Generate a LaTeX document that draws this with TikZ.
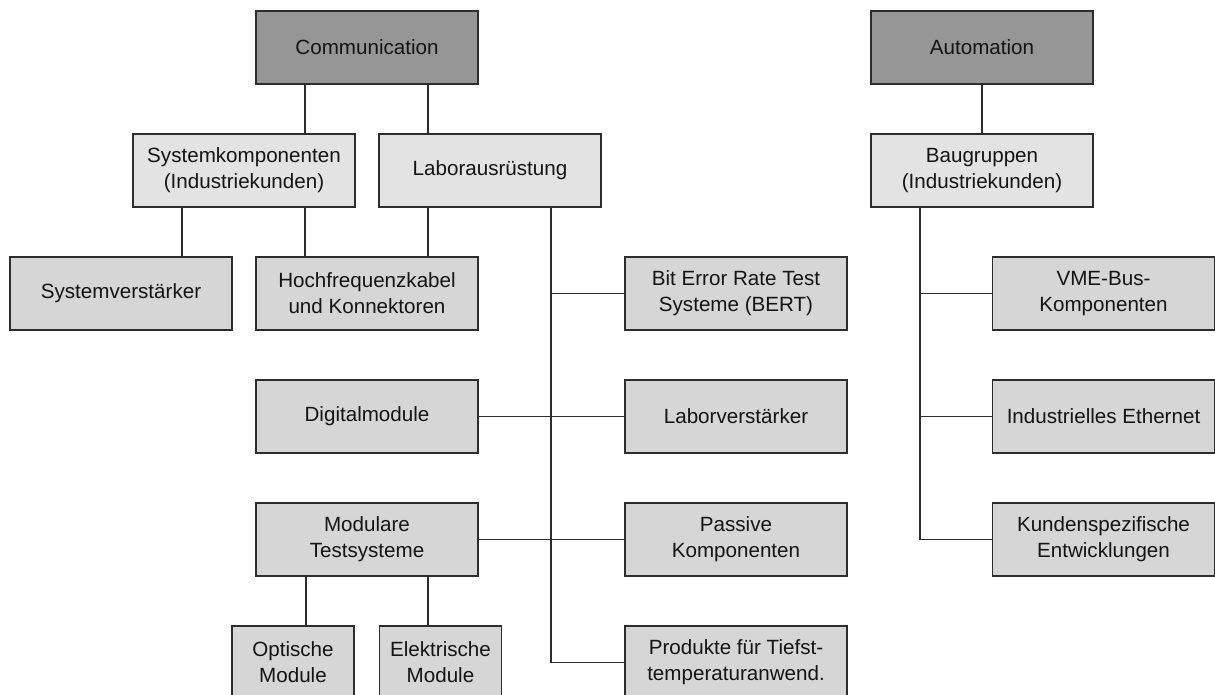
\documentclass[tikz,border=0pt]{standalone}
\usepackage{fontspec}
\setmainfont{Liberation Sans}
\definecolor{topfill}{RGB}{150,150,150}
\definecolor{midfill}{RGB}{227,227,227}
\definecolor{leaffill}{RGB}{214,214,214}
\definecolor{edge}{RGB}{45,45,45}
\definecolor{txt}{RGB}{20,20,20}
\tikzset{
  box/.style={draw=edge, line width=0.75pt, minimum width=111pt, minimum height=36.5pt,
    inner sep=0pt, align=center, text=txt, font=\fontsize{10.3}{13}\selectfont},
  topbox/.style={box, fill=topfill},
  midbox/.style={box, fill=midfill},
  leafbox/.style={box, fill=leaffill},
  smallbox/.style={leafbox, minimum width=61pt},
  conn/.style={draw=edge, line width=0.6pt}
}
\begin{document}
\begin{tikzpicture}[x=0.5pt,y=-0.5pt]
\useasboundingbox (0,0) rectangle (1215,695);
\clip (0,0) rectangle (1215,695);
% top level
\node[topbox] (comm) at (367,47.5) {Communication};
\node[topbox] (auto) at (982,47.5) {Automation};
% second level
\node[midbox] (sysk) at (244,170.5) {Systemkomponenten\\(Industriekunden)};
\node[midbox] (labor) at (490,170.5) {Laborausrüstung};
\node[midbox] (baug) at (982,170.5) {Baugruppen\\(Industriekunden)};
% row 3
\node[leafbox] (sysv) at (121,293.5) {Systemverstärker};
\node[leafbox] (hf) at (367,293.5) {Hochfrequenzkabel\\und Konnektoren};
\node[leafbox] (bert) at (736,293.5) {Bit Error Rate Test\\Systeme (BERT)};
\node[leafbox] (vme) at (1103.5,293.5) {VME-Bus-\\Komponenten};
% row 4
\node[leafbox] (digi) at (367,416.5) {Digitalmodule};
\node[leafbox] (lv) at (736,416.5) {Laborverstärker};
\node[leafbox] (eth) at (1103.5,416.5) {Industrielles Ethernet};
% row 5
\node[leafbox] (mod) at (367,539.5) {Modulare\\Testsysteme};
\node[leafbox] (pass) at (736,539.5) {Passive\\Komponenten};
\node[leafbox] (kund) at (1103.5,539.5) {Kundenspezifische\\Entwicklungen};
% row 6
\node[smallbox] (opt) at (293,662.5) {Optische\\Module};
\node[smallbox] (elek) at (440.5,662.5) {Elektrische\\Module};
\node[leafbox] (prod) at (736,662.5) {Produkte für Tiefst-\\temperaturanwend.};
% connectors: Communication
\draw[conn] ([xshift=-31pt]comm.south) -- ([xshift=-31pt]comm.south |- sysk.north);
\draw[conn] ([xshift=30.5pt]comm.south) -- ([xshift=30.5pt]comm.south |- labor.north);
\draw[conn] ([xshift=-31pt]sysk.south) -- ([xshift=-31pt]sysk.south |- sysv.north);
\draw[conn] ([xshift=30.5pt]sysk.south) -- ([xshift=30.5pt]sysk.south |- hf.north);
\draw[conn] ([xshift=-31pt]labor.south) -- ([xshift=-31pt]labor.south |- hf.north);
\coordinate (ltrunk) at ([xshift=30.5pt]labor.south);
\draw[conn] (ltrunk) |- (prod.west);
\draw[conn] (ltrunk |- bert.west) -- (bert.west);
\draw[conn] (digi.east) -- (lv.west);
\draw[conn] (mod.east) -- (pass.west);
\draw[conn] ([xshift=-30.5pt]mod.south) -- ([xshift=-30.5pt]mod.south |- opt.north);
\draw[conn] ([xshift=30.5pt]mod.south) -- ([xshift=30.5pt]mod.south |- elek.north);
% connectors: Automation
\draw[conn] (auto.south) -- (baug.north);
\coordinate (atrunk) at ([xshift=-31pt]baug.south);
\draw[conn] (atrunk) |- (kund.west);
\draw[conn] (atrunk |- vme.west) -- (vme.west);
\draw[conn] (atrunk |- eth.west) -- (eth.west);
\end{tikzpicture}
\end{document}
